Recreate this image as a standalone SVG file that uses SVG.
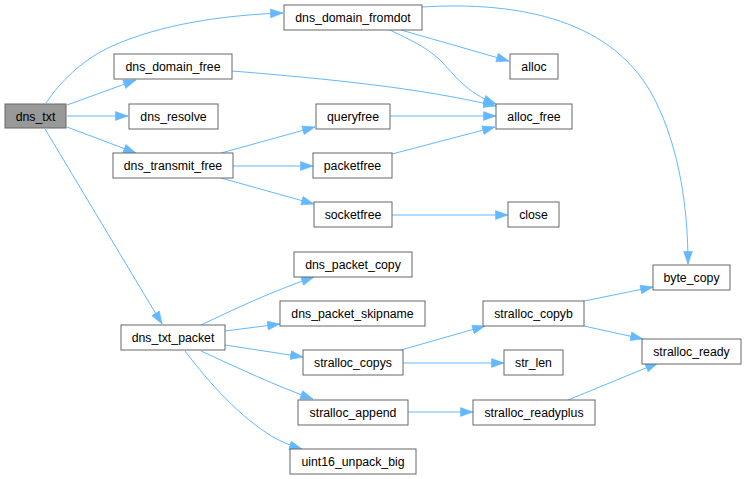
<svg xmlns="http://www.w3.org/2000/svg" width="746" height="479" viewBox="0 0 746 479">
<defs>
<style>
.n rect{fill:#ffffff;stroke:#666666;stroke-width:1}
.n.cur rect{fill:#999999}
.n text{font-family:"Liberation Sans",Arial,sans-serif;font-size:12.3px;fill:#000000;text-anchor:middle}
.e path{fill:none;stroke:#63b8ff;stroke-width:1;marker-end:url(#ah)}
</style>
<marker id="ah" markerUnits="userSpaceOnUse" markerWidth="14" markerHeight="10" refX="13" refY="5" orient="auto" viewBox="0 0 14 10">
<path d="M0.5,0.6 L13,5 L0.5,9.4 z" fill="#63b8ff" stroke="#63b8ff" stroke-width="0.6"/>
</marker>
</defs>
<rect width="746" height="479" fill="#ffffff"/>
<g id="edges" class="e">
<path d="M46,103 C60,82 82,60 110,47 C160,24 225,15 283,13"/>
<path d="M67,105 L136,80"/>
<path d="M67,116 L128,116"/>
<path d="M67,127 L136,153"/>
<path d="M45,129 L162,324"/>
<path d="M221,153 L315,127"/>
<path d="M233,166 L313,166"/>
<path d="M221,178 L314,204"/>
<path d="M390,116 L496,116"/>
<path d="M392,154 L495,127"/>
<path d="M392,215 L508,215"/>
<path d="M232,71 C330,79 420,88 496,106"/>
<path d="M401,30 L509,61"/>
<path d="M390,30 C410,40 425,46 440,60 C455,75 465,92 496,104"/>
<path d="M422,7 C520,1 615,20 655,100 C680,150 688,210 688,264"/>
<path d="M201,325 C235,309 270,292 314,277"/>
<path d="M225,331 L280,324"/>
<path d="M225,345 L303,357"/>
<path d="M201,351 C236,367 276,386 313,399"/>
<path d="M185,351 C210,384 240,417 273,437 C282,442 292,446 302,449"/>
<path d="M401,350 L485,326"/>
<path d="M403,363 L504,363"/>
<path d="M408,412 L473,412"/>
<path d="M584,301 L653,287"/>
<path d="M584,326 L643,339"/>
<path d="M568,400 L658,363"/>
</g>
<g id="dns_txt" class="n cur"><rect x="5" y="104" width="61" height="24"/><text x="35.5" y="120.5">dns_txt</text></g>
<g id="dns_domain_fromdot" class="n"><rect x="284" y="5" width="138" height="25"/><text x="353" y="22">dns_domain_fromdot</text></g>
<g id="dns_domain_free" class="n"><rect x="114" y="54" width="118" height="25"/><text x="173" y="71">dns_domain_free</text></g>
<g id="dns_resolve" class="n"><rect x="129" y="104" width="89" height="25"/><text x="173.5" y="121">dns_resolve</text></g>
<g id="dns_transmit_free" class="n"><rect x="113" y="153" width="120" height="25"/><text x="173" y="170">dns_transmit_free</text></g>
<g id="queryfree" class="n"><rect x="316" y="104" width="74" height="25"/><text x="353" y="121">queryfree</text></g>
<g id="packetfree" class="n"><rect x="313" y="153" width="79" height="25"/><text x="352.5" y="170">packetfree</text></g>
<g id="socketfree" class="n"><rect x="314" y="202" width="78" height="25"/><text x="353" y="219">socketfree</text></g>
<g id="alloc" class="n"><rect x="510" y="54" width="48" height="25"/><text x="534" y="71">alloc</text></g>
<g id="alloc_free" class="n"><rect x="496" y="104" width="76" height="25"/><text x="534" y="121">alloc_free</text></g>
<g id="close" class="n"><rect x="508" y="202" width="51" height="25"/><text x="533.5" y="219">close</text></g>
<g id="dns_packet_copy" class="n"><rect x="294" y="252" width="118" height="25"/><text x="353" y="269">dns_packet_copy</text></g>
<g id="dns_packet_skipname" class="n"><rect x="280" y="301" width="145" height="25"/><text x="352.5" y="318">dns_packet_skipname</text></g>
<g id="dns_txt_packet" class="n"><rect x="121" y="325" width="104" height="25"/><text x="173" y="342">dns_txt_packet</text></g>
<g id="stralloc_copys" class="n"><rect x="303" y="350" width="100" height="25"/><text x="353" y="367">stralloc_copys</text></g>
<g id="stralloc_append" class="n"><rect x="298" y="400" width="110" height="25"/><text x="353" y="417">stralloc_append</text></g>
<g id="uint16_unpack_big" class="n"><rect x="290" y="449" width="126" height="25"/><text x="353" y="466">uint16_unpack_big</text></g>
<g id="byte_copy" class="n"><rect x="653" y="265" width="77" height="25"/><text x="691.5" y="282">byte_copy</text></g>
<g id="stralloc_copyb" class="n"><rect x="483" y="301" width="101" height="25"/><text x="533.5" y="318">stralloc_copyb</text></g>
<g id="stralloc_ready" class="n"><rect x="642" y="339" width="99" height="25"/><text x="691.5" y="356">stralloc_ready</text></g>
<g id="str_len" class="n"><rect x="504" y="350" width="59" height="25"/><text x="533.5" y="367">str_len</text></g>
<g id="stralloc_readyplus" class="n"><rect x="473" y="400" width="122" height="25"/><text x="534" y="417">stralloc_readyplus</text></g>
</svg>
